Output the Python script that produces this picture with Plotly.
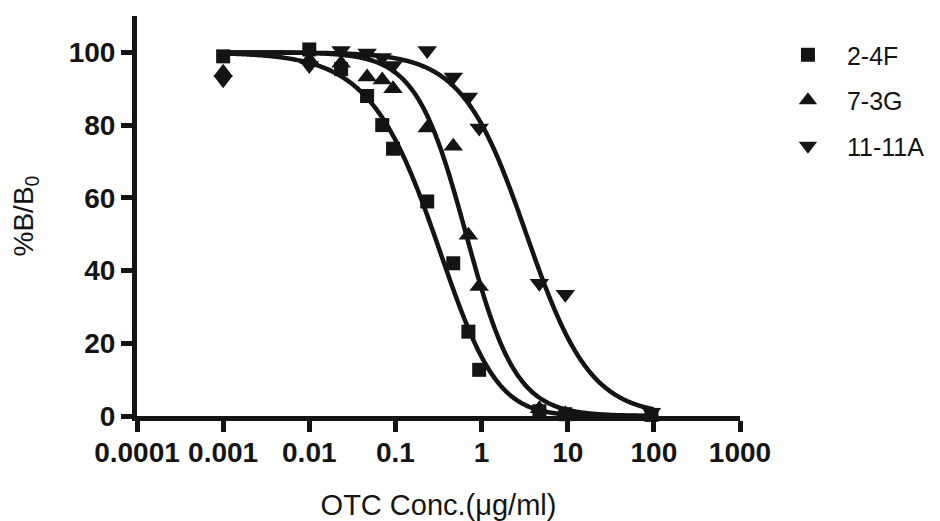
import numpy as np
import plotly.graph_objects as go

# OTC concentrations (µg/ml) used for every antibody
conc = [0.001, 0.01, 0.0234, 0.0469, 0.0703, 0.0938, 0.234, 0.469, 0.703, 0.938, 4.69, 9.38, 93.8]

# %B/B0 responses per antibody
b_2_4f = [98.9, 100.8, 95.4, 88.0, 80.0, 73.5, 59.0, 42.0, 23.2, 12.7, 1.3, 0.5, 0.3]
b_7_3g = [94.5, 98.0, 97.0, 93.2, 92.4, 90.0, 79.2, 74.2, 49.7, 35.6, 2.0, 0.6, 0.3]
b_11_11a = [92.5, 96.4, 100.5, 99.8, 98.6, 96.4, 100.5, 93.2, 87.7, 79.2, 36.5, 33.5, 1.0]

# fitted logistic parameters: (top, bottom, log10 c, hill slope, asymmetry)
fit_2_4f = (100.0, 0.0, -0.17, 1.0, 2.0)
fit_7_3g = (100.0, 0.0, -0.18, 1.5, 1.0)
fit_11_11a = (100.0, 0.0, 0.52, 1.17, 1.0)

series_names = ["2-4F", "7-3G", "11-11A"]
series_values = [b_2_4f, b_7_3g, b_11_11a]
series_fits = [fit_2_4f, fit_7_3g, fit_11_11a]
series_symbols = ["square", "triangle-up", "triangle-down"]
series_sizes = [14, 17, 17]

x_tick_vals = [0.0001, 0.001, 0.01, 0.1, 1, 10, 100, 1000]
x_tick_text = ["0.0001", "0.001", "0.01", "0.1", "1", "10", "100", "1000"]
y_tick_vals = [0, 20, 40, 60, 80, 100]

INK = "#141414"
FAMILY = "Liberation Sans, Arial, sans-serif"


def logistic(x, top, bottom, logc, hill, asym):
    u = (x / 10.0 ** logc) ** hill
    return bottom + (top - bottom) / (1.0 + u) ** asym


fig = go.Figure()

# fitted dose-response curves
xs = np.logspace(np.log10(conc[0]), 2, 400)
for name, fit in zip(series_names, series_fits):
    fig.add_trace(go.Scatter(
        x=xs, y=logistic(xs, *fit), mode="lines",
        line=dict(color=INK, width=4.5, shape="spline"),
        showlegend=False, hoverinfo="skip", cliponaxis=True,
    ))

# measured points
for name, vals, sym, sz in zip(series_names, series_values, series_symbols, series_sizes):
    fig.add_trace(go.Scatter(
        x=conc, y=vals, mode="markers", name=name, legendgroup=name,
        marker=dict(symbol=sym, size=sz, color=INK, line=dict(width=0)),
        cliponaxis=False,
    ))

axis_font = dict(family=FAMILY, size=28, color=INK, weight="bold")
title_font = dict(family=FAMILY, size=29, color=INK)

fig.update_layout(
    width=940, height=521,
    margin=dict(l=137, r=200, t=16, b=105, autoexpand=False),
    paper_bgcolor="white", plot_bgcolor="white",
    showlegend=True,
    legend=dict(
        x=1.048, xanchor="left", y=0.96, yanchor="top",
        font=dict(family=FAMILY, size=25, color=INK),
        itemwidth=68, tracegroupgap=10, bgcolor="rgba(0,0,0,0)",
    ),
    xaxis=dict(
        type="log", range=[-4, 3], automargin=False,
        tickvals=x_tick_vals, ticktext=x_tick_text,
        ticks="outside", ticklen=11, tickwidth=5, tickcolor=INK,
        ticklabelstandoff=-4,
        showline=True, linewidth=5, linecolor=INK,
        showgrid=False, zeroline=False,
        tickfont=axis_font,
        title=dict(text="OTC Conc.(μg/ml)", font=title_font, standoff=34),
    ),
    yaxis=dict(
        range=[0, 110], automargin=False,
        tickvals=y_tick_vals,
        ticks="outside", ticklen=11, tickwidth=5, tickcolor=INK,
        showline=True, linewidth=5, linecolor=INK,
        showgrid=False, zeroline=False,
        tickfont=axis_font,
        title=dict(text="%B/B<sub>0</sub>", font=dict(family=FAMILY, size=28, color=INK), standoff=28),
    ),
)

fig.write_html("out.html")
